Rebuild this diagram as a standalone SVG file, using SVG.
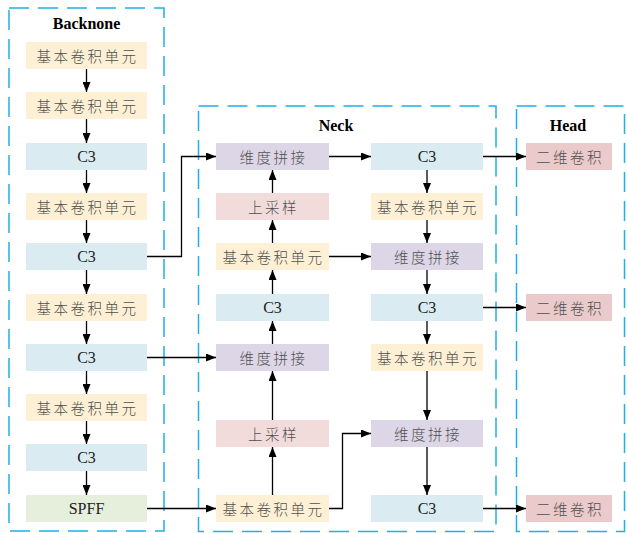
<svg xmlns="http://www.w3.org/2000/svg" width="627" height="533" viewBox="0 0 627 533">
<defs>
<marker id="ah" markerUnits="userSpaceOnUse" markerWidth="10" markerHeight="8" refX="10" refY="4" orient="auto">
<path d="M0,0 L10,4 L0,8 z" fill="#000"/>
</marker>
<style>
.frame{fill:none;stroke:#1FB0E6;stroke-width:1.5;stroke-dasharray:20 9}
.title{font-weight:bold;font-size:16px;fill:#000;text-anchor:middle}
.cn{font-family:'Noto Sans CJK SC',sans-serif;font-weight:300;font-size:14.5px;letter-spacing:2.5px;fill:#505050;text-anchor:middle;dominant-baseline:central}
.en{font-size:16px;fill:#222;text-anchor:middle;dominant-baseline:central}
.conv{fill:#FDF0D4}
.c3{fill:#DAECF2}
.cat{fill:#DCD6E6}
.up{fill:#F2DCDB}
.head{fill:#EACACA}
.spff{fill:#E6EEDC}
.ln{fill:none;stroke:#000;stroke-width:1.3;marker-end:url(#ah)}
</style>
</defs>
<rect width="627" height="533" fill="#fff"/>

<g id="frames" font-family="Liberation Serif, Times New Roman, DejaVu Serif, serif">
<rect class="frame" x="9" y="8" width="155" height="523"/>
<rect class="frame" x="198.5" y="106" width="297.5" height="425.5"/>
<rect class="frame" x="516.5" y="106" width="108" height="425.5"/>
<text class="title" x="86.5" y="29">Backnone</text>
<text class="title" x="336" y="131">Neck</text>
<text class="title" x="568" y="131">Head</text>
</g>

<g id="connectors">
<line class="ln" x1="86.5" y1="69" x2="86.5" y2="92"/>
<line class="ln" x1="86.5" y1="119" x2="86.5" y2="143"/>
<line class="ln" x1="86.5" y1="170" x2="86.5" y2="193"/>
<line class="ln" x1="86.5" y1="220" x2="86.5" y2="243"/>
<line class="ln" x1="86.5" y1="270" x2="86.5" y2="294"/>
<line class="ln" x1="86.5" y1="321" x2="86.5" y2="344"/>
<line class="ln" x1="86.5" y1="371" x2="86.5" y2="394"/>
<line class="ln" x1="86.5" y1="421" x2="86.5" y2="444"/>
<line class="ln" x1="86.5" y1="471" x2="86.5" y2="495"/>
<path class="ln" d="M147,256.5 H181.5 V156.5 H216"/>
<path class="ln" d="M147,357.5 H216"/>
<path class="ln" d="M147,508.5 H216"/>
<path class="ln" d="M272.5,495 V447"/>
<path class="ln" d="M272.5,420 V371"/>
<path class="ln" d="M272.5,344 V321"/>
<path class="ln" d="M272.5,294 V270"/>
<path class="ln" d="M272.5,243 V220"/>
<path class="ln" d="M272.5,193 V170"/>
<path class="ln" d="M329,156.5 H371"/>
<path class="ln" d="M329,256.5 H371"/>
<path class="ln" d="M329,508.5 H342.5 V433.5 H371"/>
<path class="ln" d="M427,170 V193"/>
<path class="ln" d="M427,220 V243"/>
<path class="ln" d="M427,270 V294"/>
<path class="ln" d="M427,321 V344"/>
<path class="ln" d="M427,371 V420"/>
<path class="ln" d="M427,447 V495"/>
<path class="ln" d="M483,156.5 H526"/>
<path class="ln" d="M483,307.5 H526"/>
<path class="ln" d="M483,508.5 H526"/>
</g>

<g id="nodes" font-family="Liberation Serif, Times New Roman, DejaVu Serif, serif">
<g id="b1"><rect class="conv" x="26" y="42" width="121" height="27"/><text class="cn" x="87.5" y="55.5">基本卷积单元</text></g>
<g id="b2"><rect class="conv" x="26" y="92" width="121" height="27"/><text class="cn" x="87.5" y="105.5">基本卷积单元</text></g>
<g id="b3"><rect class="c3" x="26" y="143" width="121" height="27"/><text class="en" x="86.5" y="156.5">C3</text></g>
<g id="b4"><rect class="conv" x="26" y="193" width="121" height="27"/><text class="cn" x="87.5" y="206.5">基本卷积单元</text></g>
<g id="b5"><rect class="c3" x="26" y="243" width="121" height="27"/><text class="en" x="86.5" y="256.5">C3</text></g>
<g id="b6"><rect class="conv" x="26" y="294" width="121" height="27"/><text class="cn" x="87.5" y="307.5">基本卷积单元</text></g>
<g id="b7"><rect class="c3" x="26" y="344" width="121" height="27"/><text class="en" x="86.5" y="357.5">C3</text></g>
<g id="b8"><rect class="conv" x="26" y="394" width="121" height="27"/><text class="cn" x="87.5" y="407.5">基本卷积单元</text></g>
<g id="b9"><rect class="c3" x="26" y="444" width="121" height="27"/><text class="en" x="86.5" y="457.5">C3</text></g>
<g id="b10"><rect class="spff" x="26" y="495" width="121" height="27"/><text class="en" x="86.5" y="508.5">SPFF</text></g>

<g id="n1"><rect class="cat" x="216" y="143" width="113" height="27"/><text class="cn" x="273.5" y="156.5">维度拼接</text></g>
<g id="n2"><rect class="up" x="216" y="193" width="113" height="27"/><text class="cn" x="273.5" y="206.5">上采样</text></g>
<g id="n3"><rect class="conv" x="216" y="243" width="113" height="27"/><text class="cn" x="273.5" y="256.5">基本卷积单元</text></g>
<g id="n4"><rect class="c3" x="216" y="294" width="113" height="27"/><text class="en" x="272.5" y="307.5">C3</text></g>
<g id="n5"><rect class="cat" x="216" y="344" width="113" height="27"/><text class="cn" x="273.5" y="357.5">维度拼接</text></g>
<g id="n6"><rect class="up" x="216" y="420" width="113" height="27"/><text class="cn" x="273.5" y="433.5">上采样</text></g>
<g id="n7"><rect class="conv" x="216" y="495" width="113" height="27"/><text class="cn" x="273.5" y="508.5">基本卷积单元</text></g>

<g id="r1"><rect class="c3" x="371" y="143" width="112" height="27"/><text class="en" x="427" y="156.5">C3</text></g>
<g id="r2"><rect class="conv" x="371" y="193" width="112" height="27"/><text class="cn" x="428" y="206.5">基本卷积单元</text></g>
<g id="r3"><rect class="cat" x="371" y="243" width="112" height="27"/><text class="cn" x="428" y="256.5">维度拼接</text></g>
<g id="r4"><rect class="c3" x="371" y="294" width="112" height="27"/><text class="en" x="427" y="307.5">C3</text></g>
<g id="r5"><rect class="conv" x="371" y="344" width="112" height="27"/><text class="cn" x="428" y="357.5">基本卷积单元</text></g>
<g id="r6"><rect class="cat" x="371" y="420" width="112" height="27"/><text class="cn" x="428" y="433.5">维度拼接</text></g>
<g id="r7"><rect class="c3" x="371" y="495" width="112" height="27"/><text class="en" x="427" y="508.5">C3</text></g>

<g id="h1"><rect class="head" x="526" y="143" width="86" height="27"/><text class="cn" x="570" y="156.5">二维卷积</text></g>
<g id="h2"><rect class="head" x="526" y="294" width="86" height="27"/><text class="cn" x="570" y="307.5">二维卷积</text></g>
<g id="h3"><rect class="head" x="526" y="495" width="86" height="27"/><text class="cn" x="570" y="508.5">二维卷积</text></g>
</g>
</svg>
